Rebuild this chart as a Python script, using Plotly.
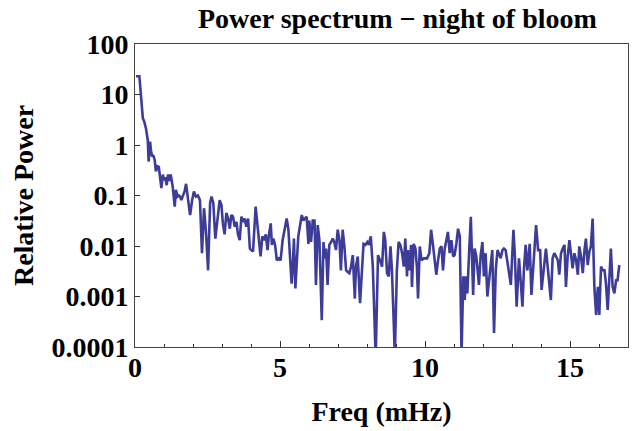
import plotly.graph_objects as go

freq_mhz = [0.034, 0.15, 0.27, 0.32, 0.38, 0.44, 0.47, 0.52, 0.55, 0.59, 0.63, 0.68, 0.72, 0.77, 0.82, 0.86, 0.91, 0.96, 1.00, 1.05,
            1.09, 1.14, 1.19, 1.23, 1.30, 1.37, 1.41, 1.46, 1.51, 1.55, 1.60, 1.64, 1.71, 1.76, 1.83, 1.90, 1.97, 2.03, 2.10, 2.17,
            2.24, 2.31, 2.38, 2.45, 2.52, 2.59, 2.64, 2.70, 2.77, 2.86, 2.92, 2.98, 3.03, 3.09, 3.15, 3.21, 3.27, 3.32, 3.38, 3.44,
            3.50, 3.55, 3.61, 3.67, 3.72, 3.78, 3.84, 3.90, 3.96, 4.01, 4.07, 4.16, 4.22, 4.28, 4.33, 4.39, 4.45, 4.51, 4.57, 4.62,
            4.68, 4.72, 4.77, 4.83, 4.89, 4.96, 5.02, 5.09, 5.16, 5.23, 5.29, 5.34, 5.40, 5.45, 5.48, 5.53, 5.63, 5.75, 5.81, 5.86,
            5.92, 5.98, 6.01, 6.07, 6.13, 6.19, 6.24, 6.30, 6.36, 6.44, 6.50, 6.55, 6.59, 6.64, 6.70, 6.76, 6.82, 6.87, 6.93, 6.99,
            7.05, 7.10, 7.16, 7.22, 7.28, 7.33, 7.39, 7.45, 7.51, 7.58, 7.62, 7.68, 7.76, 7.88, 7.94, 8.01, 8.06, 8.13, 8.20, 8.30,
            8.38, 8.45, 8.52, 8.58, 8.63, 8.69, 8.75, 8.81, 8.86, 8.96, 9.03, 9.09, 9.15, 9.21, 9.27, 9.32, 9.38, 9.41, 9.47, 9.52,
            9.55, 9.61, 9.67, 9.72, 9.76, 9.82, 9.88, 9.96, 10.07, 10.15, 10.21, 10.27, 10.33, 10.39, 10.45, 10.51, 10.57, 10.62, 10.68, 10.74,
            10.79, 10.85, 10.91, 10.97, 11.02, 11.08, 11.14, 11.20, 11.26, 11.32, 11.37, 11.41, 11.46, 11.52, 11.58, 11.66, 11.71, 11.77, 11.86, 11.92,
            11.98, 12.03, 12.09, 12.15, 12.21, 12.27, 12.32, 12.38, 12.44, 12.50, 12.55, 12.61, 12.67, 12.72, 12.78, 12.84, 12.96, 13.05, 13.10, 13.16,
            13.24, 13.30, 13.36, 13.41, 13.47, 13.53, 13.61, 13.67, 13.76, 13.83, 13.90, 13.97, 14.02, 14.10, 14.17, 14.23, 14.29, 14.34, 14.40, 14.46,
            14.52, 14.58, 14.63, 14.69, 14.75, 14.81, 14.86, 14.92, 14.98, 15.03, 15.09, 15.15, 15.21, 15.27, 15.32, 15.38, 15.44, 15.50, 15.55, 15.61,
            15.67, 15.72, 15.78, 15.84, 15.90, 15.96, 16.01, 16.07, 16.13, 16.19, 16.24, 16.30, 16.41, 16.47, 16.53, 16.59, 16.64, 16.70]

relative_power = [23, 23, 3.4, 2.9, 2.1, 1.26, 0.47, 1.17, 0.79, 0.59, 0.63, 0.50, 0.30, 0.38, 0.37, 0.22, 0.14, 0.26, 0.20, 0.23,
                  0.16, 0.26, 0.195, 0.26, 0.15, 0.060, 0.13, 0.095, 0.10, 0.095, 0.081, 0.095, 0.12, 0.17, 0.081, 0.041, 0.081, 0.12, 0.095, 0.10,
                  0.081, 0.0072, 0.056, 0.018, 0.0033, 0.071, 0.095, 0.071, 0.014, 0.05, 0.081, 0.065, 0.028, 0.017, 0.045, 0.035, 0.022, 0.041, 0.038, 0.024,
                  0.030, 0.017, 0.013, 0.038, 0.030, 0.035, 0.024, 0.035, 0.0089, 0.0083, 0.0078, 0.060, 0.026, 0.014, 0.0062, 0.0155, 0.013, 0.017, 0.0083, 0.017,
                  0.028, 0.0105, 0.014, 0.0105, 0.0052, 0.0057, 0.0052, 0.013, 0.021, 0.035, 0.021, 0.0072, 0.0018, 0.0052, 0.014, 0.00145, 0.0155, 0.041, 0.032, 0.035,
                  0.038, 0.011, 0.032, 0.012, 0.032, 0.032, 0.0017, 0.026, 0.013, 0.00034, 0.012, 0.0057, 0.0089, 0.0017, 0.0105, 0.012, 0.014, 0.012, 0.0083, 0.021,
                  0.013, 0.0033, 0.021, 0.0098, 0.0033, 0.0031, 0.0029, 0.0039, 0.0066, 0.00091, 0.0039, 0.0062, 0.00074, 0.011, 0.0105, 0.012, 0.0105, 0.0155, 0.0039, 0.000063,
                  0.0066, 0.0052, 0.0039, 0.019, 0.013, 0.0029, 0.0025, 0.0098, 0.0033, 0.00007, 0.0033, 0.012, 0.0105, 0.0072, 0.0039, 0.014, 0.0025, 0.0083, 0.0033, 0.0105,
                  0.00155, 0.011, 0.0089, 0.0039, 0.00091, 0.0098, 0.0052, 0.0057, 0.0057, 0.0072, 0.021, 0.011, 0.0049, 0.0027, 0.0052, 0.0089, 0.0098, 0.0033, 0.0089, 0.013,
                  0.019, 0.0072, 0.013, 0.0062, 0.0066, 0.011, 0.022, 0.0155, 0.00007, 0.0025, 0.00085, 0.0025, 0.00115, 0.0072, 0.038, 0.00107, 0.0089, 0.0062, 0.0017, 0.0066,
                  0.012, 0.0025, 0.0072, 0.0010, 0.0021, 0.0036, 0.0083, 0.00019, 0.0033, 0.0083, 0.0072, 0.0057, 0.0083, 0.0089, 0.0083, 0.0049, 0.0017, 0.021, 0.0062, 0.00063,
                  0.0057, 0.0020, 0.00063, 0.0033, 0.0105, 0.0033, 0.011, 0.00107, 0.0072, 0.026, 0.0083, 0.0083, 0.00135, 0.0033, 0.0089, 0.0039, 0.0018, 0.00085, 0.0057, 0.0072,
                  0.0062, 0.0052, 0.0027, 0.0072, 0.0089, 0.0105, 0.00155, 0.0062, 0.013, 0.0062, 0.0036, 0.0072, 0.0052, 0.0027, 0.0098, 0.0062, 0.0029, 0.0083, 0.014, 0.0042,
                  0.0078, 0.0098, 0.035, 0.00155, 0.00043, 0.00155, 0.00043, 0.0039, 0.0033, 0.0033, 0.0018, 0.00054, 0.0089, 0.00155, 0.00115, 0.0021, 0.0021, 0.0042]

y_tick_values = [0.0001, 0.001, 0.01, 0.1, 1, 10, 100]
y_tick_labels = ["0.0001", "0.001", "0.01", "0.1", "1", "10", "100"]
x_tick_values = [0, 5, 10, 15]
x_tick_labels = ["0", "5", "10", "15"]

FONT = "Liberation Serif, Times New Roman, serif"
FS = 28

def bold(size=FS):
    return dict(family=FONT, size=size, color="black", weight="bold")

fig = go.Figure()
fig.add_trace(go.Scatter(
    x=freq_mhz, y=relative_power, mode="lines",
    line=dict(color="#3d3d99", width=2.6),
    showlegend=False, hoverinfo="skip",
))

fig.update_layout(
    template="none",
    width=641, height=431,
    margin=dict(l=135, r=13, t=44, b=84, autoexpand=False),
    paper_bgcolor="white", plot_bgcolor="white",
    font=bold(),
    title=dict(text="Power spectrum \u2212 night of bloom", x=0.62, xanchor="center",
               xref="container", y=0.958, yref="container", yanchor="middle",
               font=bold()),
)
fig.update_xaxes(
    range=[0, 17], tickvals=x_tick_values, ticktext=x_tick_labels,
    ticks="inside", ticklen=6, tickwidth=1, tickcolor="#333",
    minor=dict(dtick=1, ticks="inside", ticklen=3, tickcolor="#333", showgrid=False),
    showline=True, linecolor="#444", linewidth=1, mirror=True,
    showgrid=False, zeroline=False, automargin=False,
    tickfont=bold(), ticklabelstandoff=-5,
    title=dict(text="Freq (mHz)", standoff=19, font=bold()),
)
fig.update_yaxes(
    type="log", range=[-4, 2], tickvals=y_tick_values, ticktext=y_tick_labels,
    ticks="inside", ticklen=5, tickwidth=1, tickcolor="#333",
    showline=True, linecolor="#444", linewidth=1, mirror=True,
    showgrid=False, zeroline=False, automargin=False,
    tickfont=bold(),
    title=dict(text="Relative Power", standoff=9, font=bold()),
)

fig.write_html("out.html", config={"displayModeBar": False},
               post_script="document.body.style.margin='0';")
